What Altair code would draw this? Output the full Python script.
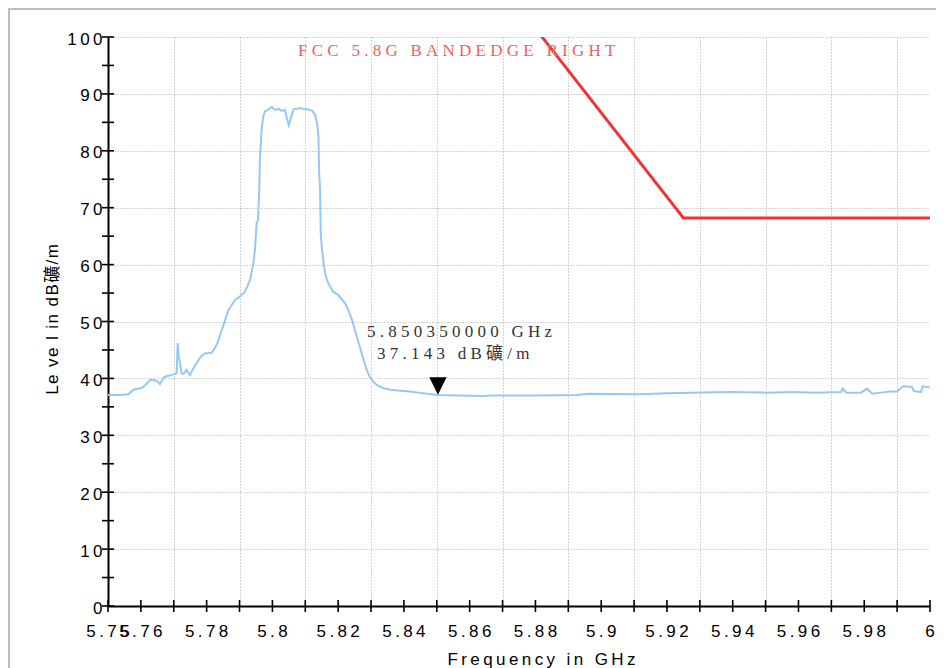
import json
import altair as alt
import pandas as pd

# ---- measured trace (GHz, dBuV/m) ----
FREQ = [5.7500, 5.7540, 5.7562, 5.7577, 5.7602, 5.7615, 5.7628, 5.7638, 5.7650, 5.7658,
        5.7666, 5.7673, 5.7699, 5.7709, 5.7711, 5.7712, 5.7715, 5.7719, 5.7724, 5.7730,
        5.7739, 5.7744, 5.7749, 5.7760, 5.7770, 5.7782, 5.7795, 5.7815, 5.7825, 5.7835,
        5.7846, 5.7856, 5.7866, 5.7886, 5.7901, 5.7917, 5.7932, 5.7942, 5.7947, 5.7952,
        5.7956, 5.7960, 5.7962, 5.7967, 5.7972, 5.7977, 5.7988, 5.7998, 5.8008, 5.8018,
        5.8028, 5.8038, 5.8043, 5.8050, 5.8056, 5.8064, 5.8074, 5.8084, 5.8096, 5.8109,
        5.8122, 5.8130, 5.8136, 5.8140, 5.8142, 5.8145, 5.8147, 5.8150, 5.8157, 5.8163,
        5.8170, 5.8185, 5.8200, 5.8210, 5.8221, 5.8231, 5.8242, 5.8260, 5.8273, 5.8285,
        5.8297, 5.8312, 5.8325, 5.8337, 5.8358, 5.8398, 5.8420, 5.8444, 5.8500, 5.8641,
        5.8660, 5.8800, 5.8926, 5.8960, 5.9103, 5.9158, 5.9200, 5.9386, 5.9500, 5.9583,
        5.9650, 5.9730, 5.9735, 5.9745, 5.9790, 5.9808, 5.9825, 5.9850, 5.9880, 5.9900,
        5.9918, 5.9945, 5.9950, 5.9972, 5.9978, 6.0000]
LEVEL = [37.1, 37.1, 37.2, 38.0, 38.3, 38.9, 39.7, 39.7, 39.5, 39.0,
         39.8, 40.3, 40.7, 40.9, 45.0, 46.2, 44.0, 42.7, 40.9, 40.8,
         41.5, 41.0, 40.6, 41.8, 42.7, 43.8, 44.4, 44.5, 45.3, 46.5,
         48.5, 50.2, 52.0, 53.8, 54.4, 55.3, 57.3, 60.2, 62.6, 67.3,
         67.8, 73.1, 78.4, 83.7, 86.0, 86.9, 87.3, 87.7, 87.2, 87.4,
         87.0, 87.2, 86.0, 84.5, 85.7, 87.3, 87.4, 87.5, 87.3, 87.3,
         87.0, 86.3, 84.8, 82.5, 76.6, 73.1, 65.5, 63.1, 59.6, 57.8,
         56.7, 55.2, 54.7, 54.0, 53.2, 52.0, 50.3, 46.7, 44.1, 41.8,
         40.1, 39.1, 38.6, 38.3, 38.0, 37.8, 37.7, 37.5, 37.1, 36.9,
         37.0, 37.0, 37.1, 37.3, 37.2, 37.3, 37.4, 37.6, 37.5, 37.6,
         37.5, 37.6, 38.2, 37.5, 37.5, 38.2, 37.3, 37.5, 37.7, 37.7,
         38.6, 38.5, 37.8, 37.6, 38.6, 38.4]

# ---- limit line ----
LIMIT_NAME = "FCC 5.8G BANDEDGE RIGHT"
LIMIT_FREQ = [5.875, 5.925, 6.0]
LIMIT_LEVEL = [105.2, 68.2, 68.2]

# ---- marker ----
MARKER_FREQ = [5.850350000]
MARKER_LEVEL = [37.143]
MARKER_TEXT1 = ["5.850350000 GHz"]
MARKER_TEXT2 = ["37.143 dB礦/m"]

# ---- axes ----
X_TICKS = [round(5.75 + 0.01 * i, 2) for i in range(26)]
X_LABEL_VALUES = [5.75, 5.76, 5.78, 5.80, 5.82, 5.84, 5.86, 5.88,
                  5.90, 5.92, 5.94, 5.96, 5.98, 6.00]
X_LABEL_TEXT = ["5.75", "5.76", "5.78", "5.8", "5.82", "5.84", "5.86", "5.88",
                "5.9", "5.92", "5.94", "5.96", "5.98", "6"]
Y_TICKS = list(range(0, 101, 5))
Y_LABELED = list(range(0, 101, 10))
X_TITLE = "Frequency in GHz"
Y_TITLE = "Le ve l in dB礦/m"

W, H = 822, 569
THIN = "\u2009"
HAIR = "\u200a"
NBSP = "\u00a0"
SANS = "Liberation Sans, Arial, Noto Sans CJK SC, sans-serif"
SERIF = "Liberation Serif, Times New Roman, Noto Sans CJK SC, serif"


def spaced(s, sep=THIN):
    return sep.join(list(s))


def spaced_words(s, sep=NBSP, wordsep=NBSP * 3):
    return wordsep.join(sep.join(list(w)) for w in s.split(" "))


xs = alt.Scale(domain=[5.75, 6.0], nice=False, zero=False)
ys = alt.Scale(domain=[0, 100], nice=False, zero=False)

y_lab = json.dumps(Y_LABELED)

x_axis = alt.Axis(
    values=X_TICKS, grid=True, gridColor="#a9a9a9", gridDash=[1, 2], gridWidth=1,
    ticks=False, labels=False, domain=True, domainColor="black", domainWidth=2,
    title=spaced(X_TITLE), titleFont=SANS, titleFontSize=17, titleFontWeight="normal",
    titleColor="black", titleX=433, titleY=58, titleBaseline="alphabetic", titleAlign="center",
)
y_axis = alt.Axis(
    values=Y_TICKS, grid=True, gridColor="#a9a9a9", gridDash=[1, 2], gridWidth=1,
    ticks=False, domain=True, domainColor="black", domainWidth=2,
    labelExpr=f"indexof({y_lab}, datum.value) >= 0 ? join(split(format(datum.value, 'd'), ''), '{THIN}') : ''",
    labelFont=SANS, labelFontSize=17, labelColor="black", labelPadding=6, labelOffset=2,
    title=spaced(Y_TITLE, HAIR),
    titleFont=SANS, titleFontSize=17,
    titleFontWeight="normal", titleColor="black", titleX=-51, titleY=282,
    titleAngle=270, titleBaseline="alphabetic", titleAlign="center",
)

trace_df = pd.DataFrame({"freq": FREQ, "level": LEVEL})
limit_df = pd.DataFrame({"freq": LIMIT_FREQ, "level": LIMIT_LEVEL})
marker_df = pd.DataFrame({
    "freq": MARKER_FREQ, "level": MARKER_LEVEL,
    "t1": [spaced_words(t) for t in MARKER_TEXT1],
    "t2": [spaced_words(t) for t in MARKER_TEXT2],
})
name_df = pd.DataFrame({"name": [spaced_words(LIMIT_NAME, NBSP, NBSP * 3)]})
xlab_df = pd.DataFrame({"v": X_LABEL_VALUES, "t": [spaced(t) for t in X_LABEL_TEXT]})

trace = alt.Chart(trace_df).mark_line(color="#96c8f6", strokeWidth=2, clip=True).encode(
    x=alt.X("freq:Q", scale=xs, axis=x_axis),
    y=alt.Y("level:Q", scale=ys, axis=y_axis),
)
limit = alt.Chart(limit_df).mark_line(color="#ee3636", strokeWidth=3, clip=True).encode(
    x=alt.X("freq:Q", scale=xs), y=alt.Y("level:Q", scale=ys),
)
ytick = alt.Chart(pd.DataFrame({"v": Y_TICKS})).mark_rule(color="black", strokeWidth=1.6).encode(
    y=alt.Y("v:Q", scale=ys), x=alt.value(-6), x2=alt.value(6),
)
xtick = alt.Chart(pd.DataFrame({"v": X_TICKS})).mark_rule(color="black", strokeWidth=1.6).encode(
    x=alt.X("v:Q", scale=xs), y=alt.value(H - 6), y2=alt.value(H + 6),
)
xlabels = alt.Chart(xlab_df).mark_text(
    font=SANS, fontSize=17, color="black", align="center", baseline="alphabetic"
).encode(x=alt.X("v:Q", scale=xs), y=alt.value(H + 31), text="t:N")
marker = alt.Chart(marker_df).mark_point(
    shape="M-1,-2L1,-2L0,0Z", filled=True, color="black", size=300, opacity=1
).encode(x=alt.X("freq:Q", scale=xs), y=alt.Y("level:Q", scale=ys))
mtext1 = alt.Chart(marker_df).mark_text(
    font=SERIF, fontSize=17, color="#333333", align="left", baseline="alphabetic", dx=-71, dy=-58
).encode(x=alt.X("freq:Q", scale=xs), y=alt.Y("level:Q", scale=ys), text="t1:N")
mtext2 = alt.Chart(marker_df).mark_text(
    font=SERIF, fontSize=17, color="#333333", align="left", baseline="alphabetic", dx=-61, dy=-36
).encode(x=alt.X("freq:Q", scale=xs), y=alt.Y("level:Q", scale=ys), text="t2:N")
name = alt.Chart(name_df).mark_text(
    font=SERIF, fontSize=17, color="#f26060", align="left", baseline="alphabetic"
).encode(text="name:N", x=alt.value(190), y=alt.value(19))
frame = alt.Chart(pd.DataFrame({"a": [0]})).mark_rect(
    fillOpacity=0, stroke="#bdbdbd", strokeWidth=2
).encode(x=alt.value(-99), x2=alt.value(900), y=alt.value(-28), y2=alt.value(700))

chart = alt.layer(frame, trace, limit, ytick, xtick, xlabels, marker, mtext1, mtext2, name).properties(
    width=W, height=H,
    autosize=alt.AutoSizeParams(type="none"),
    padding={"left": 100, "top": 29, "right": 6, "bottom": 62},
    background="white",
).configure_view(strokeWidth=0)

chart.save("out.html", embed_options={"renderer": "svg", "actions": False})
